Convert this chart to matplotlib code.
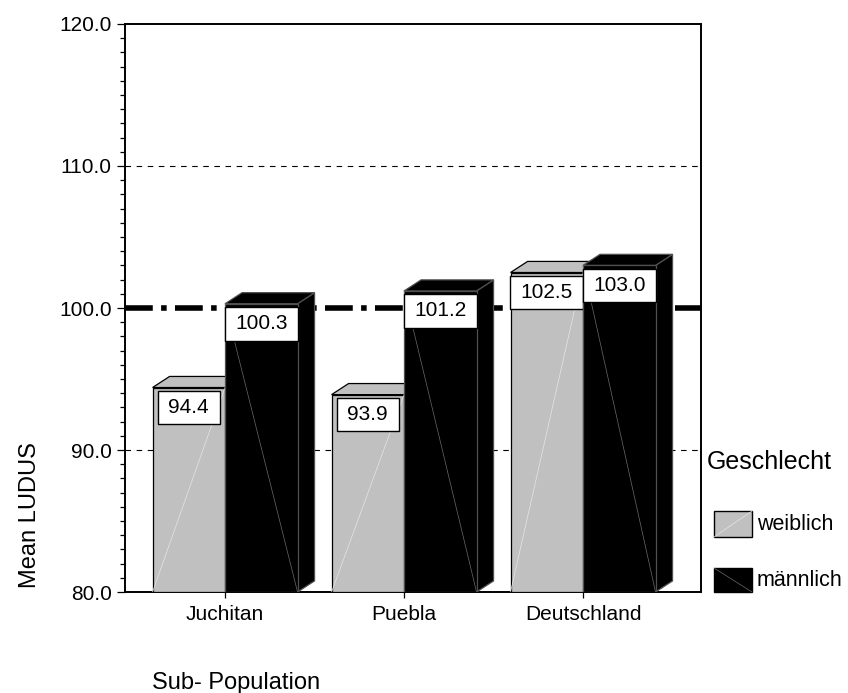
import numpy as np
import matplotlib.pyplot as plt
from matplotlib.patches import Polygon, Rectangle
from matplotlib.ticker import MultipleLocator

plt.rcParams['font.family'] = ['Liberation Sans', 'DejaVu Sans']

# Mittelwerte LUDUS je Teilpopulation und Geschlecht
populationen = ['Juchitan', 'Puebla', 'Deutschland']
weiblich = [94.4, 93.9, 102.5]
maennlich = [100.3, 101.2, 103.0]
geschlecht = ['weiblich', 'männlich']
farben = ['#c0c0c0', '#000000']
referenz = 100.0

W, H = 848, 693
fig = plt.figure(figsize=(W / 100, H / 100), dpi=100)
ax = fig.add_axes([125 / W, 101 / H, 576 / W, 568 / H])
ax.set_xlim(-0.559, 2.659)
ax.set_ylim(80, 120)

breite = 0.405
tiefe_x, tiefe_y = 0.095, 0.78  # Versatz der Rueckseite fuer den 3D-Effekt
basis = 80


def saeule(x0, wert, farbe, z):
    kante = 'black' if farbe != '#000000' else '#505050'
    front = Rectangle((x0, basis), breite, wert - basis, fc=farbe, ec=kante,
                      lw=0.9, zorder=z)
    oben = Polygon([(x0, wert), (x0 + breite, wert),
                    (x0 + breite + tiefe_x, wert + tiefe_y),
                    (x0 + tiefe_x, wert + tiefe_y)],
                   closed=True, fc=farbe, ec=kante, lw=0.9, zorder=z)
    seite = Polygon([(x0 + breite, basis), (x0 + breite + tiefe_x, basis + tiefe_y),
                     (x0 + breite + tiefe_x, wert + tiefe_y), (x0 + breite, wert)],
                    closed=True, fc=farbe, ec=kante, lw=0.9, zorder=z)
    for p in (seite, oben, front):
        ax.add_patch(p)
    # feine Diagonale wie beim Verlaufsfuellung-Export
    if farbe == '#000000':
        ax.plot([x0, x0 + breite], [wert, basis], color='#6a6a6a', lw=0.5, zorder=z)
    else:
        ax.plot([x0, x0 + breite], [basis, wert], color='#e6e6e6', lw=0.5, zorder=z)
    ax.text(x0 + breite / 2, wert - 1.41, f'{wert:.1f}', ha='center', va='center',
            fontsize=15, zorder=z + 0.5,
            bbox=dict(boxstyle='square,pad=0.5', fc='white', ec='black', lw=1.0,
                      mutation_aspect=0.7))


for i in range(len(populationen)):
    saeule(i - breite, weiblich[i], farben[0], 3 + i * 2)
    saeule(i, maennlich[i], farben[1], 4 + i * 2)

# Hilfslinien
for v in (90, 110):
    ax.axhline(v, color='black', lw=0.8, linestyle=(0, (5, 5)), zorder=1)
ax.axhline(referenz, color='black', lw=4, dashes=(5, 1.5, 1, 1.5), zorder=1.5)

ax.set_yticks(np.arange(80, 121, 10))
ax.set_yticklabels([f'{v:.1f}' for v in np.arange(80, 121, 10)])
ax.yaxis.set_minor_locator(MultipleLocator(1))
ax.tick_params(axis='y', which='major', length=6, width=0.9, labelsize=15, pad=3.5)
ax.tick_params(axis='y', which='minor', length=3.5, width=0.9)
ax.set_xticks(range(len(populationen)))
ax.set_xticklabels(populationen)
ax.tick_params(axis='x', length=4, width=0.9, labelsize=15, pad=5)
for s in ax.spines.values():
    s.set_linewidth(1.4)

# Achsentitel
fig.text(30 / W, 1 - 515 / H, 'Mean LUDUS', rotation=90, ha='center', va='center',
         fontsize=17)
fig.text(152 / W, 1 - 683 / H, 'Sub- Population', ha='left', va='center', fontsize=17)

# Legende
fig.text(707 / W, 1 - 462 / H, 'Geschlecht', ha='left', va='center', fontsize=18)
leg_boxen = [(511, 537), (568, 592)]
for (y0, y1), farbe, name in zip(leg_boxen, farben, geschlecht):
    r = Rectangle((714 / W, 1 - y1 / H), 38 / W, (y1 - y0) / H, fc=farbe, ec='black',
                  lw=1.0, transform=fig.transFigure)
    fig.add_artist(r)
    if farbe == '#000000':
        fig.add_artist(plt.Line2D([714 / W, 752 / W], [1 - y0 / H, 1 - y1 / H],
                                  color='#6a6a6a', lw=0.5, transform=fig.transFigure))
    else:
        fig.add_artist(plt.Line2D([714 / W, 752 / W], [1 - y1 / H, 1 - y0 / H],
                                  color='#e6e6e6', lw=0.5, transform=fig.transFigure))
    fig.text(757 / W, 1 - (y0 + y1) / 2 / H, name, ha='left', va='center', fontsize=15.5)

fig.savefig('out.png', dpi=100)
